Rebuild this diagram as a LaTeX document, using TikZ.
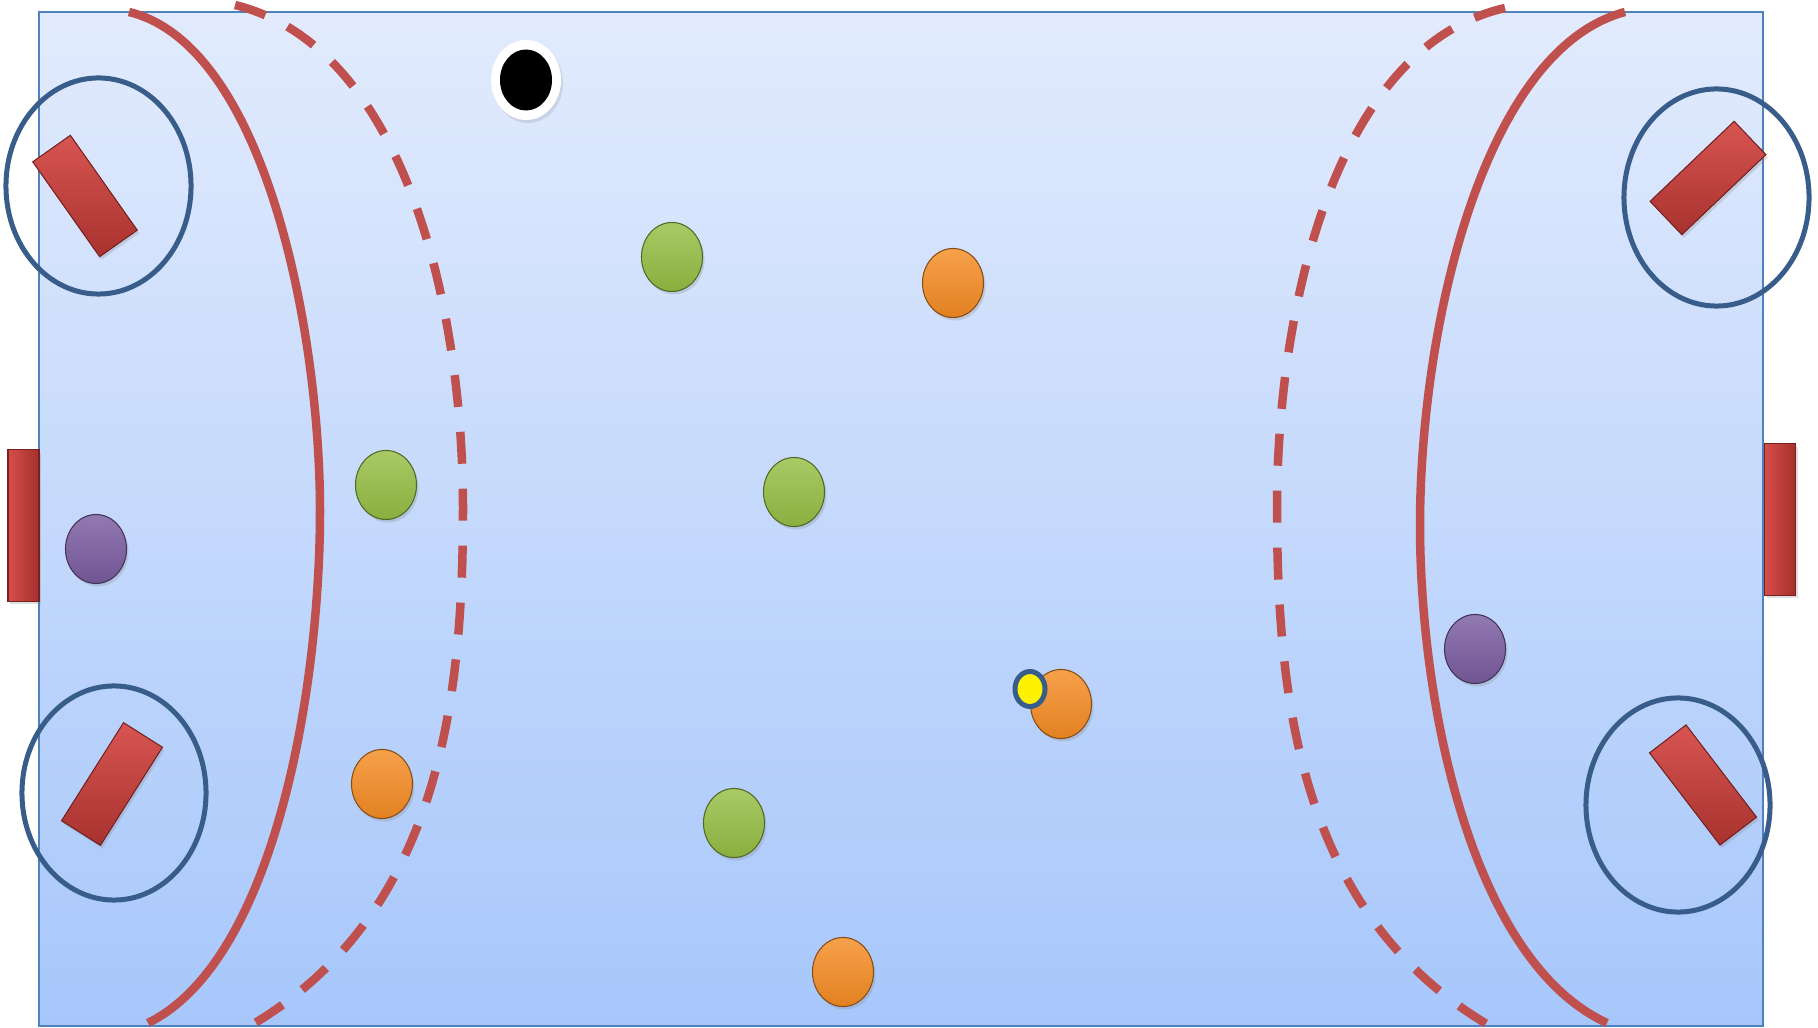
\documentclass[tikz,border=0pt]{standalone}
\usepackage{tikz}
\usetikzlibrary{shapes.geometric,shadows}
\definecolor{fieldtop}{RGB}{226,235,253}
\definecolor{fieldbot}{RGB}{167,199,251}
\definecolor{fieldline}{RGB}{79,129,189}
\definecolor{zonered}{RGB}{192,80,77}
\definecolor{ringblue}{RGB}{56,93,138}
\definecolor{goalred}{RGB}{210,62,58}
\definecolor{pgreen}{RGB}{150,190,68}
\definecolor{porange}{RGB}{245,140,36}
\definecolor{ppurple}{RGB}{122,92,160}
\tikzset{
  zone/.style={draw=zonered, line width=0.085cm},
  dashzone/.style={zone, dash pattern=on 9.1pt off 7.1pt},
  ring/.style={ellipse, draw=ringblue, line width=0.05cm, inner sep=0pt},
  goalbar/.style={rectangle, inner sep=0pt, minimum width=1.16cm, minimum height=0.46cm,
    draw=goalred!55!black, line width=0.3pt, top color=goalred!88!white, bottom color=goalred!80!black,
    drop shadow={shadow xshift=0.02cm, shadow yshift=-0.03cm, opacity=0.25}},
  goalpost/.style={goalbar, minimum width=0.31cm, minimum height=1.51cm,
    left color=goalred!92!white, right color=goalred!78!black},
  player/.style={ellipse, inner sep=0pt, minimum width=0.61cm, minimum height=0.69cm,
    draw=#1!55!black, line width=0.3pt, top color=#1!82!white, bottom color=#1!92!black,
    drop shadow={shadow xshift=0.02cm, shadow yshift=-0.03cm, opacity=0.25}}
}
\begin{document}
\begin{tikzpicture}[x=0.01cm, y=-0.01cm]
  \useasboundingbox (0,0) rectangle (1818,1028);
  % field
  \draw[fieldline, line width=0.02cm, top color=fieldtop, bottom color=fieldbot]
    (39,12) rectangle (1763,1026);
  % zone lines
  \draw[zone] (129,12) .. controls (265,45) and (320,331) .. (320,511)
    .. controls (320,691) and (274,961) .. (148,1023);
  \draw[dashzone] (235,5) .. controls (405,47) and (463,308) .. (463,508)
    .. controls (463,708) and (437,916) .. (250,1026);
  \draw[zone] (1625,12) .. controls (1482,50) and (1420,331) .. (1420,525)
    .. controls (1420,705) and (1472,961) .. (1607,1023);
  \draw[dashzone] (1505,8) .. controls (1335,47) and (1277,308) .. (1277,508)
    .. controls (1277,708) and (1303,916) .. (1490,1026);
  % goals
  \node[goalpost] (lgoal) at (23.5,525.5) {};
  \node[goalpost] (rgoal) at (1780,519.5) {};
  \node[goalbar, rotate=-54.8] (tlgoal) at (85,196) {};
  \node[goalbar, rotate=57.7] (blgoal) at (112,784) {};
  \node[goalbar, rotate=43.6] (trgoal) at (1708,178) {};
  \node[goalbar, rotate=-52.6] (brgoal) at (1703,785) {};
  \node[ring, minimum width=1.85cm, minimum height=2.16cm] (tlring) at (98.5,186) {};
  \node[ring, minimum width=1.84cm, minimum height=2.14cm] (blring) at (114,793) {};
  \node[ring, minimum width=1.85cm, minimum height=2.17cm] (trring) at (1716.5,197.5) {};
  \node[ring, minimum width=1.84cm, minimum height=2.14cm] (brring) at (1678,805) {};
  % players
  \node[player=pgreen] (g1) at (672,257) {};
  \node[player=pgreen] (g2) at (386,485) {};
  \node[player=pgreen] (g3) at (794,492) {};
  \node[player=pgreen] (g4) at (734,823) {};
  \node[player=porange] (o1) at (953,283) {};
  \node[player=porange] (o2) at (382,784) {};
  \node[player=porange] (o3) at (1061,704) {};
  \node[player=porange] (o4) at (843,972) {};
  \node[player=ppurple] (p1) at (96,549) {};
  \node[player=ppurple] (p2) at (1475,649) {};
  % ball and marker
  \node[ellipse, inner sep=0pt, minimum width=0.7cm, minimum height=0.8cm, fill=white,
    drop shadow={shadow xshift=0.02cm, shadow yshift=-0.03cm, opacity=0.2}] (ballring) at (526,80) {};
  \node[ellipse, inner sep=0pt, minimum width=0.52cm, minimum height=0.61cm, fill=black] (ball) at (526,80) {};
  \node[ellipse, inner sep=0pt, minimum width=0.3cm, minimum height=0.35cm, fill=yellow,
    draw=ringblue, line width=0.05cm] (mark) at (1030,689) {};
\end{tikzpicture}
\end{document}
